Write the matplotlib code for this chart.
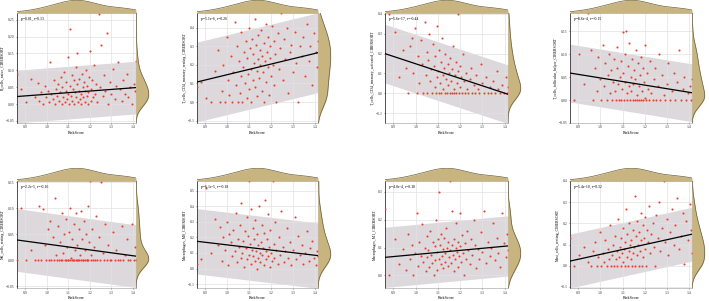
import numpy as np
import matplotlib
matplotlib.use("Agg")
import matplotlib.pyplot as plt
from matplotlib.ticker import MultipleLocator

plt.rcParams["font.family"] = ["Liberation Serif", "DejaVu Serif"]

# RiskScore of the samples (shared by all panels)
risk = [
    0.862, 0.880, 0.905, 0.925, 0.945,
    0.958, 0.966, 0.975, 0.983, 0.990, 0.997, 1.004, 1.010, 1.016, 1.022, 1.028, 1.034, 1.040, 1.045, 1.049,
    1.053, 1.057, 1.061, 1.065, 1.069, 1.073, 1.077, 1.081, 1.085, 1.089, 1.092, 1.095, 1.098, 1.101, 1.104,
    1.107, 1.110, 1.113, 1.116, 1.119, 1.122, 1.125, 1.128, 1.131, 1.134, 1.137, 1.140, 1.143, 1.146, 1.149,
    1.152, 1.155, 1.158, 1.161, 1.164, 1.167, 1.170, 1.173, 1.176, 1.179, 1.182, 1.185, 1.188, 1.191, 1.194,
    1.197, 1.200, 1.204, 1.208, 1.212, 1.216, 1.220, 1.225, 1.230,
    1.236, 1.242, 1.248, 1.254, 1.260, 1.266, 1.272, 1.279, 1.286, 1.293, 1.300, 1.308, 1.316, 1.324, 1.332,
    1.340, 1.348, 1.356, 1.364, 1.372, 1.380, 1.388, 1.396, 1.404, 1.410, 1.414]

b_naive = [
    0.088, 0.045, 0.005, 0.075, 0.02,
    0.062, 0.01, 0.035, 0.0, 0.055, 0.02, 0.04, 0.005, 0.125, 0.03, 0.015, 0.07, 0.0, 0.045, 0.025,
    0.06, 0.01, 0.035, 0.08, 0.0, 0.05, 0.02, 0.095, 0.005, 0.04, 0.065, 0.015, 0.03, 0.14, 0.0,
    0.055, 0.222, 0.025, 0.085, 0.01, 0.045, 0.07, 0.0, 0.035, 0.11, 0.02, 0.06, 0.152, 0.005, 0.04,
    0.075, 0.015, 0.03, 0.0, 0.09, 0.05, 0.02, 0.065, 0.005, 0.04, 0.1, 0.025, 0.055, 0.0, 0.035,
    0.08, 0.158, 0.01, 0.045, 0.07, 0.02, 0.115, 0.03, 0.06,
    0.005, 0.268, 0.05, 0.175, 0.025, 0.085, 0.04, 0.21, 0.0, 0.065, 0.03, 0.105, 0.015, 0.055, 0.125,
    0.045, 0.01, 0.07, 0.03, 0.09, 0.02, 0.05, 0.0, 0.06, 0.04, 0.128]

cd4_resting = [
    0.08, 0.11, 0.02, 0.0, 0.17,
    0.28, 0.0, 0.06, 0.2, 0.0, 0.35, 0.12, 0.04, 0.25, 0.0, 0.16, 0.43, 0.09, 0.3, 0.0,
    0.22, 0.05, 0.14, 0.38, 0.0, 0.19, 0.27, 0.1, 0.33, 0.02, 0.24, 0.15, 0.4, 0.07, 0.29,
    0.18, 0.0, 0.34, 0.12, 0.26, 0.21, 0.45, 0.08, 0.31, 0.17, 0.03, 0.23, 0.36, 0.13, 0.28,
    0.2, 0.39, 0.06, 0.25, 0.16, 0.32, 0.0, 0.22, 0.42, 0.11, 0.27, 0.19, 0.35, 0.04, 0.24,
    0.3, 0.14, 0.41, 0.2, 0.09, 0.33, 0.26, 0.0, 0.37,
    0.18, 0.29, 0.48, 0.12, 0.34, 0.23, 0.4, 0.05, 0.27, 0.31, 0.16, 0.38, 0.21, 0.0, 0.3,
    0.25, 0.35, 0.14, 0.42, 0.22, 0.3, 0.09, 0.37, 0.27, 0.19, 0.33]

cd4_activated = [
    0.2, 0.4, 0.31, 0.08, 0.22,
    0.13, 0.0, 0.24, 0.28, 0.1, 0.33, 0.0, 0.19, 0.05, 0.27, 0.15, 0.0, 0.36, 0.09, 0.21,
    0.0, 0.17, 0.3, 0.06, 0.12, 0.0, 0.25, 0.14, 0.03, 0.19, 0.0, 0.08, 0.34, 0.11, 0.0,
    0.22, 0.05, 0.16, 0.0, 0.28, 0.09, 0.02, 0.13, 0.0, 0.2, 0.07, 0.0, 0.15, 0.04, 0.1,
    0.0, 0.18, 0.06, 0.0, 0.12, 0.24, 0.02, 0.0, 0.09, 0.16, 0.0, 0.05, 0.11, 0.4, 0.0,
    0.14, 0.03, 0.08, 0.0, 0.2, 0.06, 0.0, 0.1, 0.02,
    0.0, 0.07, 0.13, 0.0, 0.04, 0.0, 0.09, 0.02, 0.0, 0.15, 0.05, 0.0, 0.08, 0.0, 0.03,
    0.0, 0.06, 0.0, 0.11, 0.02, 0.0, 0.04, 0.0, 0.08, 0.0, 0.03]

tfh = [
    0.06, 0.0, 0.1, 0.035, 0.19,
    0.11, 0.0, 0.07, 0.02, 0.095, 0.045, 0.0, 0.12, 0.03, 0.08, 0.0, 0.055, 0.1, 0.015, 0.065,
    0.0, 0.04, 0.09, 0.02, 0.0, 0.07, 0.115, 0.035, 0.0, 0.05, 0.085, 0.0, 0.025, 0.148, 0.06,
    0.0, 0.1, 0.04, 0.15, 0.015, 0.0, 0.075, 0.03, 0.125, 0.0, 0.05, 0.02, 0.09, 0.0, 0.035,
    0.065, 0.0, 0.045, 0.11, 0.01, 0.0, 0.08, 0.03, 0.0, 0.055, 0.095, 0.0, 0.02, 0.07, 0.0,
    0.04, 0.12, 0.005, 0.0, 0.06, 0.025, 0.0, 0.085, 0.015,
    0.0, 0.045, 0.07, 0.0, 0.03, 0.1, 0.0, 0.055, 0.01, 0.0, 0.035, 0.08, 0.0, 0.02, 0.06,
    0.0, 0.04, 0.11, 0.0, 0.025, 0.05, 0.0, 0.015, 0.03, 0.0, 0.045]

nk_resting = [
    0.0, 0.1, 0.0, 0.02, 0.0,
    0.0, 0.105, 0.0, 0.098, 0.03, 0.0, 0.06, 0.0, 0.075, 0.0, 0.045, 0.0, 0.12, 0.01, 0.0,
    0.065, 0.0, 0.035, 0.0, 0.09, 0.0, 0.015, 0.05, 0.0, 0.0, 0.08, 0.025, 0.0, 0.0, 0.055,
    0.0, 0.1, 0.005, 0.0, 0.04, 0.0, 0.07, 0.0, 0.02, 0.0, 0.09, 0.0, 0.03, 0.0, 0.06,
    0.0, 0.01, 0.095, 0.0, 0.04, 0.0, 0.0, 0.075, 0.02, 0.0, 0.05, 0.0, 0.0, 0.105, 0.0,
    0.035, 0.152, 0.0, 0.01, 0.06, 0.0, 0.025, 0.0, 0.085,
    0.0, 0.045, 0.0, 0.15, 0.015, 0.0, 0.07, 0.0, 0.03, 0.0, 0.0, 0.055, 0.0, 0.02, 0.0,
    0.0, 0.065, 0.0, 0.01, 0.04, 0.0, 0.0, 0.07, 0.0, 0.025, 0.0]

mac_m0 = [
    0.03, 0.06, 0.52, 0.1, 0.32,
    0.15, 0.27, 0.05, 0.2, 0.12, 0.3, 0.02, 0.22, 0.17, 0.08, 0.25, 0.11, 0.36, 0.04, 0.19,
    0.14, 0.28, 0.07, 0.42, 0.1, 0.18, 0.01, 0.24, 0.13, 0.33, 0.06, 0.21, 0.56, 0.09, 0.16,
    0.38, 0.03, 0.12, 0.26, 0.08, 0.19, 0.05, 0.31, 0.11, 0.0, 0.22, 0.15, 0.07, 0.4, 0.1,
    0.04, 0.17, 0.28, 0.09, 0.13, 0.02, 0.23, 0.44, 0.06, 0.11, 0.19, 0.35, 0.08, 0.14, 0.01,
    0.25, 0.1, 0.05, 0.56, 0.16, 0.07, 0.3, 0.12, 0.03,
    0.2, 0.09, 0.37, 0.14, 0.04, 0.11, 0.26, 0.07, 0.17, 0.02, 0.12, 0.33, 0.06, 0.21, 0.09,
    0.15, 0.03, 0.1, 0.24, 0.05, 0.13, 0.18, 0.07, 0.02, 0.11, 0.08]

mac_m1 = [
    0.24, 0.0, 0.13, 0.04, 0.095,
    0.02, 0.15, 0.06, 0.11, 0.0, 0.08, 0.225, 0.035, 0.12, 0.07, 0.185, 0.05, 0.1, 0.015, 0.14,
    0.065, 0.09, 0.03, 0.16, 0.075, 0.045, 0.12, 0.0, 0.105, 0.055, 0.2, 0.085, 0.02, 0.13, 0.3,
    0.06, 0.11, 0.04, 0.15, 0.07, 0.095, 0.025, 0.135, 0.08, 0.05, 0.17, 0.1, 0.035, 0.12, 0.065,
    0.34, 0.09, 0.045, 0.23, 0.11, 0.075, 0.015, 0.13, 0.06, 0.1, 0.19, 0.085, 0.03, 0.12, 0.07,
    0.225, 0.105, 0.05, 0.145, 0.08, 0.0, 0.115, 0.06, 0.16,
    0.09, 0.04, 0.13, 0.075, 0.2, 0.11, 0.025, 0.095, 0.06, 0.155, 0.085, 0.23, 0.045, 0.12, 0.07,
    0.1, 0.19, 0.055, 0.135, 0.08, 0.03, 0.225, 0.115, 0.065, 0.15, 0.09]

mast_resting = [
    0.13, 0.0, 0.05, 0.09, 0.02,
    0.0, 0.07, 0.11, 0.0, 0.04, 0.16, 0.0, 0.06, 0.02, 0.12, 0.0, 0.08, 0.03, 0.19, 0.0,
    0.05, 0.1, 0.0, 0.14, 0.03, 0.07, 0.0, 0.22, 0.04, 0.09, 0.0, 0.13, 0.06, 0.02, 0.18,
    0.08, 0.0, 0.11, 0.27, 0.04, 0.15, 0.0, 0.07, 0.2, 0.1, 0.03, 0.12, 0.0, 0.17, 0.06,
    0.09, 0.33, 0.0, 0.14, 0.05, 0.21, 0.1, 0.0, 0.16, 0.07, 0.25, 0.12, 0.0, 0.19, 0.04,
    0.13, 0.23, 0.08, 0.0, 0.17, 0.11, 0.28, 0.06, 0.15,
    0.2, 0.09, 0.0, 0.24, 0.13, 0.3, 0.07, 0.18, 0.4, 0.11, 0.22, 0.05, 0.16, 0.27, 0.1,
    0.19, 0.32, 0.08, 0.14, 0.25, 0.01, 0.21, 0.12, 0.29, 0.17, 0.06]

cells = [b_naive, cd4_resting, cd4_activated, tfh, nk_resting, mac_m0, mac_m1, mast_resting]
ylabels = ["B_cells_naive_CIBERSORT", "T_cells_CD4_memory_resting_CIBERSORT",
           "T_cells_CD4_memory_activated_CIBERSORT", "T_cells_follicular_helper_CIBERSORT",
           "NK_cells_resting_CIBERSORT", "Macrophages_M0_CIBERSORT",
           "Macrophages_M1_CIBERSORT", "Mast_cells_resting_CIBERSORT"]
stats = ["p=0.01, r=0.13", "p=5.1e-6, r=0.26", "p=5.6e-17, r=-0.44", "p=8.6e-4, r=-0.15",
         "p=2.2e-5, r=-0.16", "p=6.1e-5, r=-0.18", "p=4.0e-4, r=0.18", "p=5.4e-10, r=0.32"]
# fitted line at the two ends of the x range, and half width of the band
fit_left = [0.0225, 0.108, 0.2, 0.059, 0.039, 0.175, 0.065, 0.022]
fit_right = [0.049, 0.266, -0.005, 0.016, 0.008, 0.083, 0.106, 0.149]
band_half = [0.078, 0.215, 0.148, 0.063, 0.06, 0.21, 0.108, 0.127]
y_lo = [-0.056, -0.113, -0.15, -0.05, -0.053, -0.125, -0.045, -0.105]
y_hi = [0.27, 0.48, 0.405, 0.19, 0.152, 0.5625, 0.339, 0.40]
y_step = [0.05, 0.1, 0.1, 0.05, 0.05, 0.1, 0.1, 0.1]

W, H = 709, 301
# main axes boxes in pixels: left, right, top, bottom
cols = [(17, 136), (197, 318), (385, 508), (570, 692)]
rows = [(13, 123), (181, 288)]
marg = 13

fill_c = "#C8B47E"
edge_c = "#6E5F33"


def kde(vals, grid):
    vals = np.asarray(vals)
    bw = 1.06 * vals.std() * len(vals) ** (-0.2)
    d = np.exp(-0.5 * ((grid[:, None] - vals[None, :]) / bw) ** 2).sum(axis=1)
    return d / d.max()


fig = plt.figure(figsize=(W / 100, H / 100), dpi=100)
x = np.array(risk)
x0, x1 = 0.862, 1.415

for i, y in enumerate(cells):
    l, r = cols[i % 4]
    t, b = rows[i // 4]
    ax = fig.add_axes([l / W, 1 - b / H, (r - l) / W, (b - t) / H])
    ax.fill_between([x0, x1], [fit_left[i] - band_half[i], fit_right[i] - band_half[i]],
                    [fit_left[i] + band_half[i], fit_right[i] + band_half[i]],
                    color="#DCD8DC", lw=0, zorder=1)
    ax.scatter(x, y, s=2.2, color="#E8402E", lw=0, zorder=3)
    ax.plot([x0, x1], [fit_left[i], fit_right[i]], color="black", lw=0.9, zorder=4)
    ax.set_xlim(x0, x1)
    ax.set_ylim(y_lo[i], y_hi[i])
    ax.xaxis.set_major_locator(MultipleLocator(0.1))
    ax.yaxis.set_major_locator(MultipleLocator(y_step[i]))
    ax.grid(True, color="#E2E2E2", lw=0.5, zorder=0)
    ax.tick_params(labelsize=2.7, length=1.0, width=0.4, pad=0.8, colors="#333333")
    for s in ax.spines.values():
        s.set_linewidth(0.4)
        s.set_color("#999999")
    ax.spines["left"].set_color("#333333")
    ax.spines["left"].set_linewidth(0.6)
    ax.set_xlabel("RiskScore", fontsize=3.0, labelpad=0.8)
    ax.set_ylabel(ylabels[i], fontsize=2.8, labelpad=0.8)
    ax.text(0.03, 0.96, stats[i], transform=ax.transAxes, fontsize=2.8, va="top", ha="left")

    # top marginal density of RiskScore
    axt = fig.add_axes([l / W, 1 - t / H, (r - l) / W, marg / H])
    gx = np.linspace(x0, x1, 200)
    dx = kde(x, gx)
    axt.fill_between(gx, 0, dx, color=fill_c, lw=0)
    axt.plot(gx, dx, color=edge_c, lw=0.5)
    axt.set_xlim(x0, x1)
    axt.set_ylim(0, 1.02)
    axt.axis("off")

    # right marginal density of the cell fraction
    axr = fig.add_axes([r / W, 1 - b / H, marg / W, (b - t) / H])
    gy = np.linspace(y_lo[i], y_hi[i], 200)
    dy = kde(y, gy)
    axr.fill_betweenx(gy, 0, dy, color=fill_c, lw=0)
    axr.plot(dy, gy, color=edge_c, lw=0.5)
    axr.set_ylim(y_lo[i], y_hi[i])
    axr.set_xlim(0, 1.02)
    axr.axis("off")

fig.savefig("out.png", dpi=100)
